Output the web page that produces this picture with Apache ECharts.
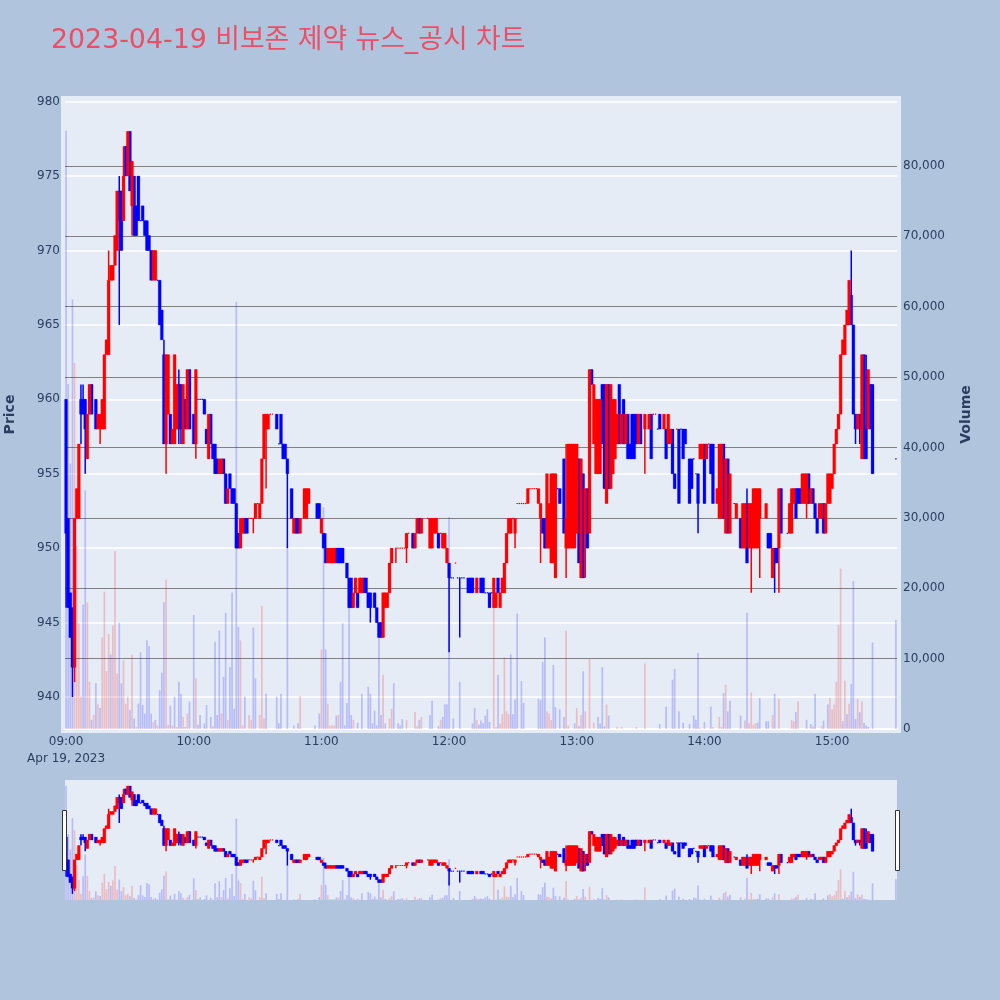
<!DOCTYPE html>
<html><head><meta charset="utf-8">
<script src="https://cdn.jsdelivr.net/npm/echarts@6/dist/echarts.min.js"></script>
<style>html,body{margin:0;padding:0;background:#B0C4DE}#c{width:1000px;height:1000px}</style>
</head><body><div id="c"></div>
<script>
// candle tuples: [minute after 09:00, open, close, low?, high?]
const up09=[[4,942,952,941],[5,952,954],[6,952,957],[10,956,959],[11,959,961],[15,958,959],[16,958,959,957],[17,958,960],[18,958,963],[19,963,964],[20,963,968,963,970],[21,968,969],[22,968,969],[23,969,971],[24,970,974],[27,972,975,972,977],[29,975,978],[31,973,976,971],[41,968,970],[42,968,970],[47,957,963,955],[48,959,963],[50,957,958],[51,957,963],[52,958,961],[55,957,961],[57,958,962]];
const dn09=[[0,960,951,946],[1,952,946],[2,947,944],[3,946,942,940],[7,960,959,957,961],[8,960,959,959,961],[9,960,958,955],[12,961,959],[14,960,958],[25,974,972,965,975],[26,974,970],[28,977,975],[30,978,974],[32,975,971],[33,973,971],[34,975,972],[35,972,972],[36,973,972],[37,972,971],[38,972,970],[39,971,970],[40,970,968],[43,968,968],[44,968,965],[45,966,964],[46,963,957,957,964],[49,959,957],[53,961,958,957,962],[54,961,958,957],[56,960,958],[58,962,958]];
const up10=[[61,957,962,956],[67,956,959],[72,955,956],[73,955,956],[76,953,954],[82,950,952],[83,951,952],[86,952,952],[87,952,952],[88,952,952,951],[89,952,953],[90,953,953],[91,952,953],[92,953,956],[93,956,959],[94,958,959,954],[95,958,959],[96,959,959],[97,959,959],[107,951,952],[110,951,952],[112,952,954],[113,952,954],[114,953,954]];
const dn10=[[60,959,957],[62,960,960],[63,960,960],[64,960,960],[65,960,959],[66,958,957],[68,959,957],[69,957,956],[70,957,955],[71,956,955],[74,956,955],[75,955,953],[77,955,954],[78,954,953],[79,954,953],[80,953,950],[81,951,950],[84,952,951],[85,952,951],[99,959,958],[100,957,957],[101,959,957],[102,957,956],[103,957,956],[104,956,955,950],[106,954,952],[108,952,951],[109,952,951],[118,953,952],[119,953,952]];
const up11=[[120,951,952],[123,949,950],[124,949,950],[125,949,950],[126,949,950],[135,946,947],[136,947,948],[138,947,948],[139,947,948],[149,944,947],[150,946,947],[151,946,947],[152,947,949],[153,949,950],[155,950,950,949],[156,950,950],[157,950,950],[158,950,950],[159,950,950],[160,950,951,949],[161,951,951],[164,950,951],[165,951,952],[167,951,952],[170,952,952],[171,950,952],[172,950,952],[173,951,952],[174,951,952],[176,951,951],[177,950,951],[178,950,951],[179,949,950]];
const dn11=[[121,951,950],[122,950,949,949,951],[127,950,949],[128,950,949],[129,950,949],[130,950,949],[132,949,948],[133,948,946],[134,948,946],[137,947,946],[140,948,947],[141,948,947],[142,947,946],[143,947,946,945],[145,947,946],[146,946,945],[147,945,944],[148,945,944],[163,951,950],[166,952,951],[175,951,950]];
const up12=[[183,949,949],[193,947,948],[201,946,948],[202,946,947],[204,946,947],[205,947,948],[206,947,949],[207,949,951],[208,951,952],[209,951,952],[210,952,952],[211,951,952,950],[212,953,953],[213,953,953],[214,953,953],[215,953,953],[216,953,953],[217,953,954],[218,954,954],[219,954,954],[220,954,954],[221,954,954],[222,953,954],[223,952,953,949],[226,950,955],[227,950,953],[228,949,955],[229,949,955],[230,948,955],[235,950,952,948,957],[236,950,957],[237,950,957],[238,950,957],[239,950,957]];
const dn12=[[180,949,948,943],[181,948,948],[182,948,948],[184,948,948],[185,948,948,944],[186,948,948],[187,948,948],[189,948,947],[190,948,947],[191,948,947],[195,948,947],[196,948,947],[197,947,947],[198,947,947],[199,947,946],[200,947,947],[203,948,947],[224,952,951],[225,952,950],[231,954,954],[232,954,953],[234,956,951]];
const up13=[[240,951,957],[242,948,956],[244,951,954,948],[246,951,962],[248,957,961],[249,955,960],[250,955,960],[251,955,960],[254,953,961],[256,954,961],[257,955,960],[258,956,960],[259,957,959],[261,957,959],[263,957,959],[269,957,959],[272,958,959,955],[274,958,959],[276,959,959],[277,959,959],[281,958,959],[283,957,959],[284,957,958],[287,958,958],[298,956,957],[299,956,957]];
const dn13=[[241,956,949],[243,955,948],[245,954,950],[247,962,961],[252,961,957],[253,961,954],[255,961,954],[260,961,957],[262,960,957],[264,959,956],[265,957,956],[266,959,956],[267,959,956],[268,959,957],[270,959,957],[275,959,956],[278,958,958],[279,959,958],[282,958,956],[285,958,955],[286,955,954],[288,958,953],[289,958,958],[290,958,956],[291,958,957],[293,956,953],[294,956,954],[295,956,956],[296,955,955],[297,955,953,951]];
const up14=[[301,956,957],[302,957,957],[306,953,954],[307,952,957],[308,952,957],[310,951,956],[312,951,955],[315,952,953],[318,950,953],[319,950,953],[321,950,953],[322,950,953,947],[323,950,954],[324,950,954],[325,950,954],[326,952,954,948],[329,952,953],[332,948,950],[335,950,954,947],[340,951,953],[341,951,954],[342,953,954],[346,953,955],[347,953,955],[348,953,955,952],[350,953,954],[354,952,953],[355,952,953],[357,951,953],[358,953,955],[359,953,955]];
const dn14=[[300,957,953],[303,957,955],[304,957,953],[309,957,952],[311,956,951],[314,953,953],[317,952,950],[320,953,949,949,954],[330,951,950],[331,951,950],[333,950,949,947],[334,950,949],[336,954,951],[339,951,951],[343,954,952],[344,954,953],[345,954,953],[349,955,953],[351,954,953],[352,953,952],[353,952,951],[356,953,951]];
const up15=[[360,954,955],[361,955,957],[362,957,958],[363,958,959],[364,959,963],[365,963,964],[366,963,965],[367,965,966],[368,965,968],[372,958,959],[374,956,963],[377,958,962]];
const dn15=[[369,967,965,965,970],[370,965,959],[371,959,958,957],[373,959,958,957],[375,963,956],[376,958,956,956,963],[378,961,958],[379,961,955],[390,956,956]];

// volume pairs: [minute after 09:00, shares]
const volUp=[[4,52000],[5,26000],[6,15000],[7,4600],[10,18000],[11,6700],[13,2000],[15,3500],[17,13000],[18,19500],[19,8200],[20,13500],[22,14700],[23,25300],[24,7900],[27,9800],[28,3600],[29,4600],[31,10600],[33,300],[41,1000],[43,500],[47,21200],[48,600],[50,500],[52,300],[55,1700],[57,2200],[61,7200],[69,400],[73,2200],[76,1300],[82,12600],[83,500],[86,2000],[87,1300],[91,2000],[92,17500],[93,1500],[110,4700],[120,11300],[123,3600],[124,500],[125,500],[126,500],[128,2000],[135,1300],[149,7700],[152,1500],[153,2900],[160,1300],[164,2400],[165,400],[167,1700],[176,1300],[193,1300],[201,17300],[202,300],[204,800],[205,2100],[206,10200],[207,2500],[208,2100],[226,2500],[227,2200],[228,1300],[235,14000],[236,500],[240,3000],[242,2000],[244,2500],[246,9900],[248,900],[254,3500],[259,300],[261,300],[268,300],[272,9300],[298,200],[304,300],[307,1700],[308,300],[310,6300],[319,1200],[321,800],[322,5200],[323,600],[324,800],[332,2000],[335,4300],[341,1300],[342,1100],[344,3900],[351,400],[355,400],[359,4400],[360,2800],[361,3500],[362,6700],[363,14800],[364,22800],[366,6900],[368,3600],[372,4300],[374,3900]];
const volDown=[[0,85000],[1,49000],[2,37700],[3,61000],[8,17700],[9,33900],[12,1300],[14,6500],[16,3000],[21,10600],[25,15100],[26,6500],[30,2700],[32,1500],[34,3600],[35,10900],[36,3400],[37,2200],[38,12600],[39,11800],[40,2200],[42,1300],[44,5500],[45,8000],[46,18000],[49,3300],[51,4600],[53,6700],[54,5000],[56,300],[58,3900],[60,16200],[62,600],[63,2000],[65,800],[66,3400],[68,1700],[70,12400],[71,2000],[72,14000],[74,7400],[75,16500],[77,8800],[78,19400],[79,2900],[80,60700],[81,14500],[84,4600],[88,14400],[89,7200],[94,5000],[99,4600],[100,800],[101,5000],[104,26000],[107,500],[109,800],[117,500],[119,2200],[121,31500],[122,11300],[127,1900],[129,6700],[130,15000],[131,500],[132,3700],[133,17500],[134,2000],[137,900],[139,5000],[142,6000],[143,5000],[144,800],[145,2600],[146,500],[147,12900],[148,2000],[150,800],[154,6500],[156,800],[157,500],[158,1400],[166,1300],[171,2000],[172,4000],[175,400],[177,1700],[178,3500],[179,3500],[180,30100],[182,1500],[185,6700],[191,800],[192,3000],[194,600],[195,1200],[196,800],[197,1900],[198,2800],[199,1000],[203,7700],[209,10600],[210,2100],[211,4200],[212,16400],[214,6800],[215,3700],[222,4300],[223,4100],[224,9500],[225,13000],[229,9100],[230,3100],[232,2800],[234,1700],[239,800],[241,400],[243,8200],[250,1700],[251,800],[252,8800],[253,400],[255,1900],[279,700],[282,3200],[285,7000],[286,8500],[288,2500],[290,900],[293,700],[295,1900],[296,1300],[297,10800],[300,1000],[303,3200],[309,5100],[311,2500],[312,4000],[317,1900],[320,16500],[325,900],[326,4400],[329,1100],[330,1100],[333,5000],[343,2400],[348,1300],[350,700],[352,5000],[356,1200],[358,3500],[365,1100],[367,2100],[369,6400],[370,21000],[371,1400],[373,2400],[375,900],[376,500],[377,300],[379,12300],[390,15500]];

const priceTicks=[940,945,950,955,960,965,970,975,980];
const dateLabel='Apr 19, 2023';
const titleText='2023-04-19 비보존 제약 뉴스_공시 차트';

const N=391, pad=n=>String(n).padStart(2,'0');
const cats=Array.from({length:N},(_,i)=>pad(9+Math.floor(i/60))+':'+pad(i%60));
function candleData(lists){
  return lists.flat().map(([m,o,c,l,h])=>[m,o,c,l===undefined?Math.min(o,c):l,h===undefined?Math.max(o,c):h]);
}
function volData(pairs){const a=new Array(N).fill(null);pairs.forEach(([m,v])=>{a[m]=v});return a;}
const upData=candleData([up09,up10,up11,up12,up13,up14,up15]);
const dnData=candleData([dn09,dn10,dn11,dn12,dn13,dn14,dn15]);
const vu=volData(volUp), vd=volData(volDown);

const PMIN=937.85,PMAX=980.11,VMAX=89350;
const ink='#2a3f5f', font='"DejaVu Sans","Noto Sans CJK KR",sans-serif';
function candleRender(col){
  return function(params,api){
    const i=api.value(0), x=api.coord([i,api.value(1)])[0];
    const yo=api.coord([i,api.value(1)])[1], yc=api.coord([i,api.value(2)])[1];
    const yl=api.coord([i,api.value(3)])[1], yh=api.coord([i,api.value(4)])[1];
    const top=Math.min(yo,yc), h=Math.abs(yo-yc), hw=1.45;
    const kids=[];
    if(yl!==yh) kids.push({type:'line',shape:{x1:x,y1:yh,x2:x,y2:yl},style:{stroke:col,lineWidth:1.5}});
    if(h>0) kids.push({type:'rect',shape:{x:x-hw,y:top,width:hw*2,height:h},style:{fill:col,stroke:col,lineWidth:0.3}});
    else kids.push({type:'line',shape:{x1:x-0.7,y1:yo,x2:x+0.7,y2:yo},style:{stroke:col,lineWidth:1.2}});
    return {type:'group',children:kids};
  };
}
function series(x,y1,y2){
  const cs=(data,col)=>({type:'custom',xAxisIndex:x,yAxisIndex:y1,data,z:3,clip:false,
    encode:{x:0,y:[1,2,3,4]},renderItem:candleRender(col),silent:true,animation:false});
  const bs=(data,col)=>({type:'bar',xAxisIndex:x,yAxisIndex:y2,data,barWidth:1.7,stack:'v'+x,z:4,
    itemStyle:{color:col,opacity:0.2},silent:true,animation:false});
  return [cs(dnData,'#0000ff'),cs(upData,'#ff0000'),bs(vu,'#ff0000'),bs(vd,'#0000ff')];
}
const chart=echarts.init(document.getElementById('c'),null,{renderer:'canvas'});
chart.setOption({
  animation:false,backgroundColor:'#B0C4DE',
  textStyle:{fontFamily:font},
  title:{text:titleText,left:46,top:23,textStyle:{color:'#EB4F66',fontSize:26.8,fontWeight:'normal',fontFamily:font}},
  grid:[
    {left:65,right:103,top:100,bottom:271,show:false,outerBoundsMode:'none'},
    {left:65,right:103,top:780,bottom:100,show:true,backgroundColor:'#E5ECF6',borderWidth:0,outerBoundsMode:'none'}
  ],
  xAxis:[
    {type:'category',gridIndex:0,data:cats,boundaryGap:true,
      axisLine:{show:true,lineStyle:{color:'#ffffff',width:2}},axisTick:{show:false},splitLine:{show:false},
      axisLabel:{interval:i=>i%60===0,margin:4,color:ink,fontSize:12,lineHeight:17,fontFamily:font,
        formatter:(v,i)=>i===0?v+'\n'+dateLabel:v}},
    {type:'category',gridIndex:1,data:cats,boundaryGap:true,show:false}
  ],
  yAxis:[
    {type:'value',gridIndex:0,min:PMIN,max:PMAX,name:'Price',nameLocation:'middle',nameGap:48,
      nameTextStyle:{color:ink,fontSize:14,fontWeight:'bold',fontFamily:font},
      axisLine:{show:false},axisTick:{show:false,customValues:priceTicks},
      axisLabel:{margin:5,color:ink,fontSize:12,fontFamily:font,customValues:priceTicks},
      splitLine:{show:true,lineStyle:{color:'#ffffff',width:1.5}}},
    {type:'value',gridIndex:0,min:0,max:VMAX,interval:10000,position:'right',name:'Volume',nameLocation:'middle',nameGap:62,
      nameTextStyle:{color:ink,fontSize:14,fontWeight:'bold',fontFamily:font},
      axisLine:{show:false},axisTick:{show:false},
      axisLabel:{margin:6,color:ink,fontSize:12,fontFamily:font,showMaxLabel:false,
        formatter:v=>v.toLocaleString('en-US')},
      splitLine:{show:true,showMinLine:false,showMaxLine:false,lineStyle:{color:'#808080',width:1.2}}},
    {type:'value',gridIndex:1,min:PMIN,max:PMAX,show:false,splitLine:{show:false}},
    {type:'value',gridIndex:1,min:0,max:VMAX,show:false,splitLine:{show:false}}
  ],
  series:[...series(0,0,1),...series(1,2,3)],
  graphic:[
    {type:'rect',z:-10,silent:true,shape:{x:61,y:96,width:840,height:637},style:{fill:'#E5ECF6'}},
    {type:'rect',z:100,silent:true,shape:{x:62.5,y:810.5,width:4,height:60},style:{fill:'#fff',stroke:'#333',lineWidth:1}},
    {type:'rect',z:100,silent:true,shape:{x:895.5,y:810.5,width:4,height:60},style:{fill:'#fff',stroke:'#333',lineWidth:1}}
  ]
});
</script></body></html>
